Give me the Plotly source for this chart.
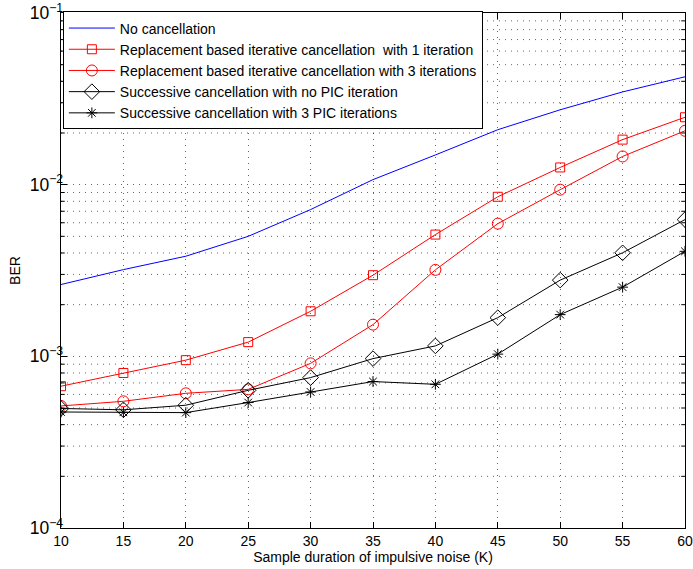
import plotly.graph_objects as go

k = [10, 15, 20, 25, 30, 35, 40, 45, 50, 55, 60]
no_cancel = [2.62e-3, 3.2e-3, 3.83e-3, 5.0e-3, 7.16e-3, 1.07e-2, 1.49e-2, 2.09e-2, 2.73e-2, 3.47e-2, 4.25e-2]
rep_1 = [6.7e-4, 8.0e-4, 9.5e-4, 1.21e-3, 1.83e-3, 2.97e-3, 5.12e-3, 8.5e-3, 1.26e-2, 1.83e-2, 2.47e-2]
rep_3 = [5.14e-4, 5.47e-4, 6.09e-4, 6.42e-4, 9.1e-4, 1.53e-3, 3.19e-3, 5.93e-3, 9.35e-3, 1.46e-2, 2.06e-2]
succ_0 = [4.97e-4, 4.88e-4, 5.19e-4, 6.34e-4, 7.52e-4, 9.7e-4, 1.15e-3, 1.68e-3, 2.78e-3, 4.01e-3, 6.26e-3]
succ_3 = [4.74e-4, 4.72e-4, 4.7e-4, 5.38e-4, 6.2e-4, 7.13e-4, 6.87e-4, 1.03e-3, 1.75e-3, 2.53e-3, 4.09e-3]

names = [
    "No cancellation",
    "Replacement based iterative cancellation  with 1 iteration",
    "Replacement based iterative cancellation with 3 iterations",
    "Successive cancellation with no PIC iteration",
    "Successive cancellation with 3 PIC iterations",
]

fig = go.Figure()
fig.add_trace(go.Scatter(x=k, y=no_cancel, mode="lines", name=names[0],
                         line=dict(color="blue", width=1)))
fig.add_trace(go.Scatter(x=k, y=rep_1, mode="lines+markers", name=names[1],
                         line=dict(color="red", width=1),
                         marker=dict(symbol="square-open", size=9, color="red", line=dict(width=1))))
fig.add_trace(go.Scatter(x=k, y=rep_3, mode="lines+markers", name=names[2],
                         line=dict(color="red", width=1),
                         marker=dict(symbol="circle-open", size=11, color="red", line=dict(width=1))))
fig.add_trace(go.Scatter(x=k, y=succ_0, mode="lines+markers", name=names[3],
                         line=dict(color="black", width=1),
                         marker=dict(symbol="diamond-open", size=12, color="black", line=dict(width=1))))
fig.add_trace(go.Scatter(x=k, y=succ_3, mode="lines+markers", name=names[4],
                         line=dict(color="black", width=1),
                         marker=dict(symbol="asterisk-open", size=9, color="black", line=dict(width=1))))

GRID = "rgba(0,0,0,0.6)"
DOTS = "1px,5px"

# minor grid lines and minor ticks for log axis
shapes = []
for dec in [1e-4, 1e-3, 1e-2]:
    for m in range(2, 10):
        v = dec * m
        shapes.append(dict(type="line", xref="paper", yref="y", x0=0, x1=1, y0=v, y1=v,
                           line=dict(color=GRID, width=1, dash=DOTS), layer="below"))
        shapes.append(dict(type="line", xref="paper", yref="y", x0=0, x1=0.006, y0=v, y1=v,
                           line=dict(color="black", width=1)))
        shapes.append(dict(type="line", xref="paper", yref="y", x0=0.994, x1=1, y0=v, y1=v,
                           line=dict(color="black", width=1)))

FONT = "Liberation Sans, Arial, sans-serif"

fig.update_layout(
    width=693, height=569,
    margin=dict(l=61, r=8, t=13, b=41),
    plot_bgcolor="white", paper_bgcolor="white",
    font=dict(family=FONT, size=14, color="black"),
    shapes=shapes,
    showlegend=True,
    legend=dict(x=0.003, y=1.003, xanchor="left", yanchor="top",
                bgcolor="white", bordercolor="black", borderwidth=1,
                font=dict(size=14), itemwidth=46, tracegroupgap=0),
    xaxis=dict(range=[10, 60], dtick=5, tick0=10, showgrid=True,
               gridcolor=GRID, griddash=DOTS, gridwidth=1,
               showline=True, linecolor="black", linewidth=1, mirror="ticks",
               ticks="inside", ticklen=6, tickcolor="black", zeroline=False,
               automargin=False,
               title=dict(text="Sample duration of impulsive noise (K)", standoff=3, font=dict(size=14)),
               tickfont=dict(size=14)),
    yaxis=dict(type="log", range=[-4, -1], dtick=1, exponentformat="power", showexponent="all",
               showgrid=True, gridcolor=GRID, griddash=DOTS, gridwidth=1,
               showline=True, linecolor="black", linewidth=1, mirror="ticks",
               ticks="inside", ticklen=6, tickcolor="black", zeroline=False,
               automargin=False, ticklabelstandoff=-6,
               title=dict(text="BER", standoff=5, font=dict(size=14)),
               tickfont=dict(size=14)),
)

fig.write_html("out.html", config={"displayModeBar": False},
               post_script="document.body.style.margin='0';")
